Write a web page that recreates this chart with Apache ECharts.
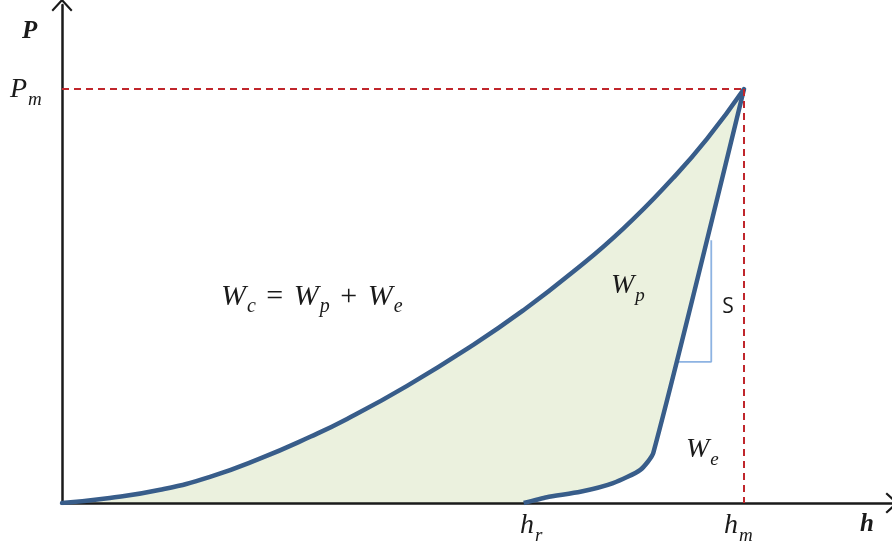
<!DOCTYPE html>
<html>
<head>
<meta charset="utf-8">
<script src="https://cdn.jsdelivr.net/npm/echarts@6/dist/echarts.min.js"></script>
<style>
  html, body { margin: 0; padding: 0; background: #fff; }
  #chart { width: 892px; height: 544px; }
</style>
</head>
<body>
<div id="chart"></div>
<script>
// loading curve (h / hm, P / Pm)
const loadH = [0, 0.070, 0.144, 0.217, 0.290, 0.364, 0.418, 0.506, 0.603, 0.676, 0.749, 0.823, 0.896, 0.946, 1]
const loadP = [0, 0.012, 0.032, 0.063, 0.107, 0.160, 0.203, 0.283, 0.382, 0.465, 0.558, 0.663, 0.785, 0.880, 1]
// unloading curve
const unloadH = [1, 0.867, 0.848, 0.808, 0.760, 0.711, 0.677]
const unloadP = [1, 0.121, 0.080, 0.048, 0.027, 0.014, 0]
// slope triangle S
const slopeH = [0.903, 0.952, 0.952]
const slopeP = [0.341, 0.341, 0.635]
const hm = 1
const Pm = 1

const blue = '#385D8A'
const red = '#C0262C'
const ink = '#1a1a1a'
const serif = 'Liberation Serif'

const pairs = (xs, ys) => xs.map((x, i) => [x, ys[i]])
const loadData = pairs(loadH, loadP)
const unloadData = pairs(unloadH, unloadP)

// math-like text: italic letter + subscript
const rich = (size) => ({
  i: { fontFamily: serif, fontStyle: 'italic', fontSize: size, fill: ink, lineHeight: size + 2, verticalAlign: 'top' },
  b: { fontFamily: serif, fontStyle: 'italic', fontWeight: 'bold', fontSize: size, fill: ink, lineHeight: size + 2, verticalAlign: 'top' },
  n: { fontFamily: serif, fontSize: size, fill: ink, lineHeight: size + 2, verticalAlign: 'top', padding: [0, 3, 0, 3] },
  s: { fontFamily: serif, fontStyle: 'italic', fontSize: Math.round(size * 0.68), fill: ink,
       lineHeight: Math.round(size * 0.68) + 2, padding: [Math.round(size * 0.5), 0, 0, 1], verticalAlign: 'top' }
})
const mathText = (text, x, y, size) => ({
  type: 'text', x: x, y: y, z: 10,
  style: { text: text, rich: rich(size), align: 'left', verticalAlign: 'top' }
})

const chart = echarts.init(document.getElementById('chart'))
const chevron = 'path://M0,0 L10,11 L8.6,12.4 L0,3 L-8.6,12.4 L-10,11 Z'
const axisLine = {
  show: true,
  symbol: ['none', chevron],
  symbolSize: [21, 19],
  lineStyle: { color: ink, width: 2.5 }
}

chart.setOption({
  animation: false,
  grid: { left: 62, right: 0, top: 5, bottom: 41 },
  xAxis: {
    type: 'value', min: 0, max: 1.217, z: 3,
    axisLine: axisLine, axisTick: { show: false }, axisLabel: { show: false }, splitLine: { show: false }
  },
  yAxis: {
    type: 'value', min: 0, max: 1.203, z: 3,
    axisLine: axisLine, axisTick: { show: false }, axisLabel: { show: false }, splitLine: { show: false }
  },
  series: [
    {
      name: 'loadArea', type: 'line', data: loadData, smooth: 0.5, z: 1,
      showSymbol: false, lineStyle: { width: 0 }, areaStyle: { color: '#EBF1DE', opacity: 1 }
    },
    {
      name: 'unloadArea', type: 'line', data: unloadData, smooth: 0.2, z: 2,
      showSymbol: false, lineStyle: { width: 0 }, areaStyle: { color: '#ffffff', opacity: 1 }
    },
    {
      name: 'guides', type: 'line', data: [], z: 3,
      markLine: {
        silent: true, symbol: 'none', label: { show: false },
        lineStyle: { color: red, width: 2, type: [7, 5] },
        data: [
          [{ coord: [0, Pm] }, { coord: [hm, Pm] }],
          [{ coord: [hm, Pm] }, { coord: [hm, 0] }]
        ]
      }
    },
    {
      name: 'slope', type: 'line', data: pairs(slopeH, slopeP), z: 3,
      showSymbol: false, lineStyle: { color: '#8DB3E2', width: 1.8 }
    },
    {
      name: 'loading', type: 'line', data: loadData, smooth: 0.5, z: 4,
      showSymbol: false, lineStyle: { color: blue, width: 4.5, cap: 'round' }
    },
    {
      name: 'unloading', type: 'line', data: unloadData, smooth: 0.2, z: 4,
      showSymbol: false, lineStyle: { color: blue, width: 4.5, join: 'round' }
    }
  ],
  graphic: [
    mathText('{b|P}', 22, 19, 25),
    mathText('{i|P}{s|m}', 10, 76, 28),
    mathText('{b|h}', 860, 512, 25),
    mathText('{i|h}{s|r}', 520, 512, 28),
    mathText('{i|h}{s|m}', 724, 512, 28),
    mathText('{i|W}{s|c}{n| = }{i|W}{s|p}{n| + }{i|W}{s|e}', 221, 282, 30),
    mathText('{i|W}{s|p}', 611, 272, 28),
    mathText('{i|W}{s|e}', 686, 436, 28),
    {
      type: 'text', x: 728, y: 307, z: 10,
      style: { text: 'S', font: '21px "Open Sans"', fill: ink, align: 'center', verticalAlign: 'middle' }
    }
  ]
})
</script>
</body>
</html>
